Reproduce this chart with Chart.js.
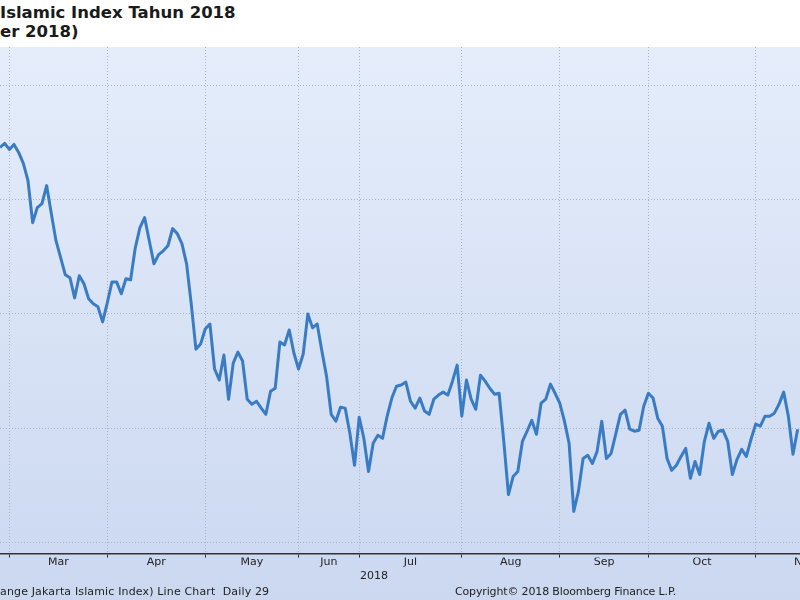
<!DOCTYPE html>
<html>
<head>
<meta charset="utf-8">
<script src="https://cdn.jsdelivr.net/npm/chart.js@4.4.0/dist/chart.umd.min.js"></script>
<style>
    html, body { margin: 0; padding: 0; width: 800px; height: 600px; overflow: hidden; background: #fff; font-family: "DejaVu Sans", sans-serif; }
    .title { position: absolute; left: 0; top: 3px; font-weight: bold; font-size: 16.5px; line-height: 19px; color: #1a1a1a; white-space: pre; }
    .panel { position: absolute; left: 0; top: 47px; width: 800px; height: 553px; background: linear-gradient(#e5edfb, #cbd8f0); }
    .footer { position: absolute; top: 585px; font-size: 11px; color: #222; white-space: pre; }
</style>
</head>
<body>
<div class="title">Islamic Index Tahun 2018
er 2018)</div>
<div class="panel">
    <canvas id="jiiChart" width="800" height="553"></canvas>
</div>
<div class="footer" style="left:0; letter-spacing:0.15px">ange Jakarta Islamic Index) Line Chart  Daily 29</div>
<div class="footer" style="left:455px; letter-spacing:-0.15px">Copyright© 2018 Bloomberg Finance L.P.</div>

<script>
// daily closes, one per trading day (index 0 = last days of Feb)
const jiiValues = [
    772.8, 774.6, 771.9, 774.1, 770.6, 765.8, 758.3, 739.9, 746.5, 748.2,
    756.1, 743.9, 732.0, 724.6, 717.1, 715.8, 707.0, 716.7, 713.2, 706.6,
    704.4, 703.1, 696.5, 704.8, 714.0, 714.0, 708.8, 715.4, 714.9, 728.9,
    737.7, 742.1, 732.0, 721.9, 725.9, 727.6, 729.8, 737.3, 735.1, 730.7,
    721.9, 704.4, 684.6, 686.8, 693.4, 695.6, 675.9, 671.1, 682.0, 662.7,
    678.5, 683.3, 679.4, 662.7, 660.5, 661.8, 658.8, 656.1, 666.2, 667.5,
    687.7, 686.4, 693.0, 682.9, 675.9, 682.5, 700.0, 693.9, 695.6, 683.8,
    672.8, 656.1, 653.1, 659.2, 658.8, 647.8, 633.8, 654.8, 645.6, 631.1,
    643.4, 646.9, 645.6, 655.3, 663.2, 668.4, 668.9, 670.2, 661.8, 658.8,
    663.2, 657.5, 656.1, 662.7, 664.5, 665.8, 664.5, 670.6, 677.6, 655.3,
    671.1, 662.7, 658.3, 673.2, 670.6, 667.5, 664.9, 665.3, 644.3, 621.0,
    628.9, 631.1, 644.3, 648.7, 653.5, 647.4, 661.0, 662.7, 669.3, 665.3,
    661.0, 653.1, 643.4, 613.6, 622.4, 636.8, 638.2, 634.6, 639.9, 653.1,
    636.8, 639.0, 647.4, 656.1, 657.9, 649.6, 648.7, 649.1, 659.6, 665.3,
    663.2, 654.4, 650.9, 636.8, 631.6, 633.8, 637.7, 641.2, 628.1, 635.5,
    629.8, 644.3, 652.2, 645.6, 648.7, 649.1, 644.3, 629.8, 636.4, 640.8,
    637.7, 645.2, 651.8, 650.9, 655.3, 655.3, 656.6, 660.5, 665.8, 655.3,
    638.6, 649.6
];
const monthLabels = ['Mar', 'Apr', 'May', 'Jun', 'Jul', 'Aug', 'Sep', 'Oct', 'Nov'];
// trading-day index of the first session of each month (last one = Dec)
const monthStarts = [2, 23, 44, 64, 77, 99, 120, 139, 162, 183];
const yTicks = [600, 650, 700, 750, 800];
const yearLabel = '2018';

const monthMids = monthLabels.map((m, i) => (monthStarts[i] + monthStarts[i + 1]) / 2);
const xMin = 0, xMax = 171.5;
const labelFont = { family: 'DejaVu Sans', size: 11 };

const points = jiiValues.map((v, i) => ({ x: i, y: v }));

new Chart(document.getElementById('jiiChart'), {
    type: 'line',
    data: {
        datasets: [{
            data: points,
            borderColor: '#3a7cc4',
            borderWidth: 3,
            borderJoinStyle: 'round',
            pointRadius: 0,
            tension: 0
        }]
    },
    options: {
        responsive: false,
        animation: false,
        devicePixelRatio: 1,
        layout: { padding: { left: 0, right: 0, top: 0, bottom: 14 } },
        plugins: { legend: { display: false }, tooltip: { enabled: false } },
        scales: {
            x: {
                type: 'linear', position: 'bottom', min: xMin, max: xMax, bounds: 'data',
                afterBuildTicks: s => { s.ticks = monthStarts.slice(0, monthLabels.length).map(v => ({ value: v })); },
                ticks: { display: false },
                grid: { color: '#a9b3c6', tickColor: '#333', tickLength: 4, lineWidth: 1 },
                border: { display: true, color: '#333', width: 1.5, dash: [1, 2] }
            },
            xMonths: {
                type: 'linear', position: 'bottom', min: xMin, max: xMax, bounds: 'data',
                afterBuildTicks: s => { s.ticks = monthMids.map(v => ({ value: v })); },
                afterFit: s => { s.paddingLeft = 0; s.paddingRight = 0; },
                ticks: {
                    autoSkip: false, maxRotation: 0, padding: -2, color: '#222', font: labelFont,
                    callback: (v, i) => monthLabels[i]
                },
                grid: { display: false, drawTicks: false },
                border: { display: false }
            },
            xYear: {
                type: 'linear', position: 'bottom', min: xMin, max: xMax, bounds: 'data',
                afterBuildTicks: s => { s.ticks = [{ value: 80.2 }]; },
                afterFit: s => { s.paddingLeft = 0; s.paddingRight = 0; },
                ticks: {
                    autoSkip: false, maxRotation: 0, padding: 3, color: '#222', font: labelFont,
                    callback: () => yearLabel
                },
                grid: { display: false, drawTicks: false },
                border: { display: false }
            },
            y: {
                min: 595.2, max: 816.7,
                afterBuildTicks: s => { s.ticks = yTicks.map(v => ({ value: v })); },
                ticks: { display: false },
                grid: { color: '#a9b3c6', drawTicks: false, lineWidth: 1 },
                border: { display: false, dash: [1, 2] }
            }
        }
    }
});
</script>
</body>
</html>
